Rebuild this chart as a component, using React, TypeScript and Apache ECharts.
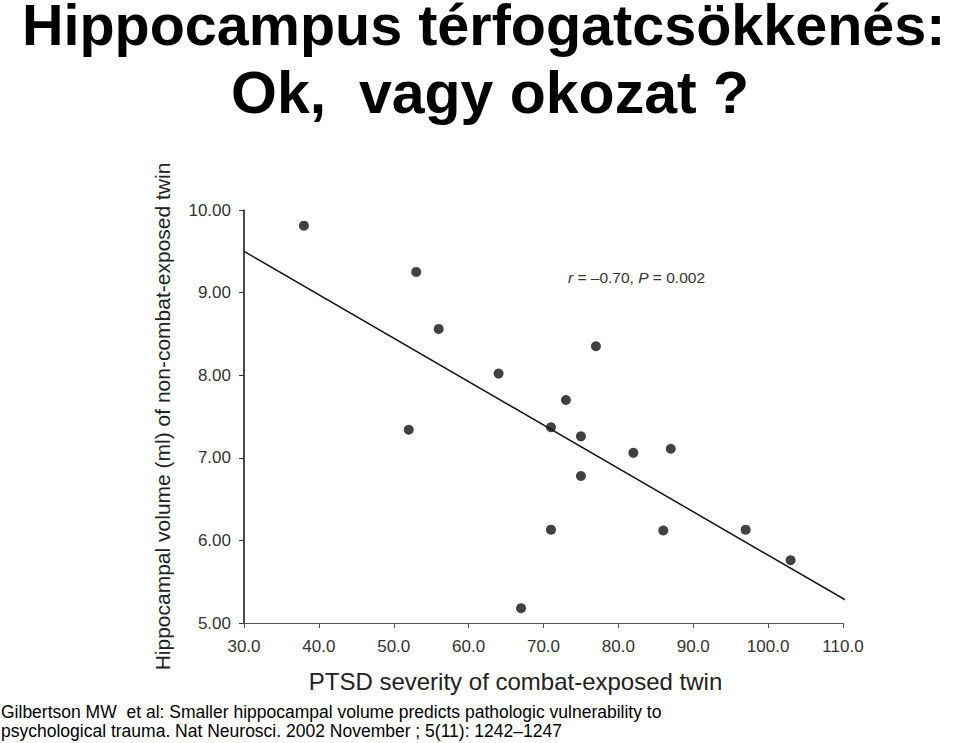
import React, { useEffect, useRef } from "react";
import * as echarts from "echarts";

const ptsdSeverity = [38, 53, 56, 64, 52, 71, 73, 77, 75, 75, 82, 87, 71, 86, 97, 103, 67];
const hippocampalVolume = [9.81, 9.25, 8.56, 8.02, 7.34, 7.37, 7.7, 8.35, 7.26, 6.78, 7.06, 7.11, 6.13, 6.12, 6.13, 5.76, 5.18];
const fitLineX = [30, 110.3];
const fitLineY = [9.5, 5.28];
const titleLines = ["Hippocampus térfogatcsökkenés:", "Ok,  vagy okozat ?"];
const footerLines = [
  "Gilbertson MW  et al: Smaller hippocampal volume predicts pathologic vulnerability to",
  "psychological trauma. Nat Neurosci. 2002 November ; 5(11): 1242–1247",
];
const xAxisTitle = "PTSD severity of combat-exposed twin";
const yAxisTitle = "Hippocampal volume (ml) of non-combat-exposed twin";

export default function App() {
  const ref = useRef<HTMLDivElement>(null);
  useEffect(() => {
    if (!ref.current) return;
    const chart = echarts.init(ref.current, null, { renderer: "svg" });
    const scatterData = ptsdSeverity.map((x, i) => [x, hippocampalVolume[i]]);
    const lineData = fitLineX.map((x, i) => [x, fitLineY[i]]);
    chart.setOption({
      animation: false,
      backgroundColor: "#ffffff",
      textStyle: { fontFamily: "Liberation Sans, Arial, sans-serif" },
      grid: { left: 244, right: 117, top: 210, bottom: 120 },
      xAxis: {
        type: "value",
        min: 30,
        max: 110,
        interval: 10,
        name: xAxisTitle,
        nameLocation: "middle",
        nameGap: 46,
        nameTextStyle: { fontSize: 24, color: "#222", padding: [0, 56, 0, 0] },
        axisLine: { lineStyle: { color: "#555", width: 1 } },
        axisTick: { show: true, length: 5, lineStyle: { color: "#555" } },
        axisLabel: {
          fontSize: 17,
          color: "#333",
          margin: 15,
          formatter: (v: number) => v.toFixed(1),
        },
        splitLine: { show: false },
      },
      yAxis: {
        type: "value",
        min: 5,
        max: 10,
        interval: 1,
        name: yAxisTitle,
        nameLocation: "middle",
        nameGap: 71,
        nameTextStyle: { fontSize: 21, color: "#222" },
        axisLine: { lineStyle: { color: "#111", width: 1.5 } },
        axisTick: { show: true, length: 5, lineStyle: { color: "#333" } },
        axisLabel: {
          fontSize: 17,
          color: "#333",
          margin: 13,
          formatter: (v: number) => v.toFixed(2),
        },
        splitLine: { show: false },
      },
      series: [
        {
          type: "line",
          data: lineData,
          showSymbol: false,
          clip: false,
          lineStyle: { color: "#111", width: 1.5 },
          silent: true,
        },
        {
          type: "scatter",
          data: scatterData,
          symbol: "circle",
          symbolSize: 10,
          itemStyle: { color: "#111" },
        },
      ],
      graphic: [
        {
          type: "text",
          left: 22,
          top: -4,
          style: {
            text: titleLines[0],
            font: "bold 57.5px 'Liberation Sans', Arial, sans-serif",
            fill: "#000",
          },
        },
        {
          type: "text",
          left: 231,
          top: 63,
          style: {
            text: titleLines[1],
            font: "bold 59px 'Liberation Sans', Arial, sans-serif",
            fill: "#000",
          },
        },
        {
          type: "text",
          left: 568,
          top: 269,
          style: {
            text: "{i|r} = –0.70, {i|P} = 0.002",
            font: "15.5px 'Liberation Sans', Arial, sans-serif",
            fill: "#333",
            rich: {
              i: { fontStyle: "italic", fontSize: 15.5, fill: "#333" },
            },
          },
        },
        {
          type: "text",
          left: 1,
          top: 703,
          style: {
            text: footerLines[0],
            font: "17.5px 'Liberation Sans', Arial, sans-serif",
            fill: "#000",
          },
        },
        {
          type: "text",
          left: 1,
          top: 722,
          style: {
            text: footerLines[1],
            font: "17.5px 'Liberation Sans', Arial, sans-serif",
            fill: "#000",
          },
        },
      ],
    });
    return () => chart.dispose();
  }, []);
  return (
    <div
      ref={ref}
      style={{ position: "absolute", left: 0, top: 0, width: 960, height: 743 }}
    />
  );
}
